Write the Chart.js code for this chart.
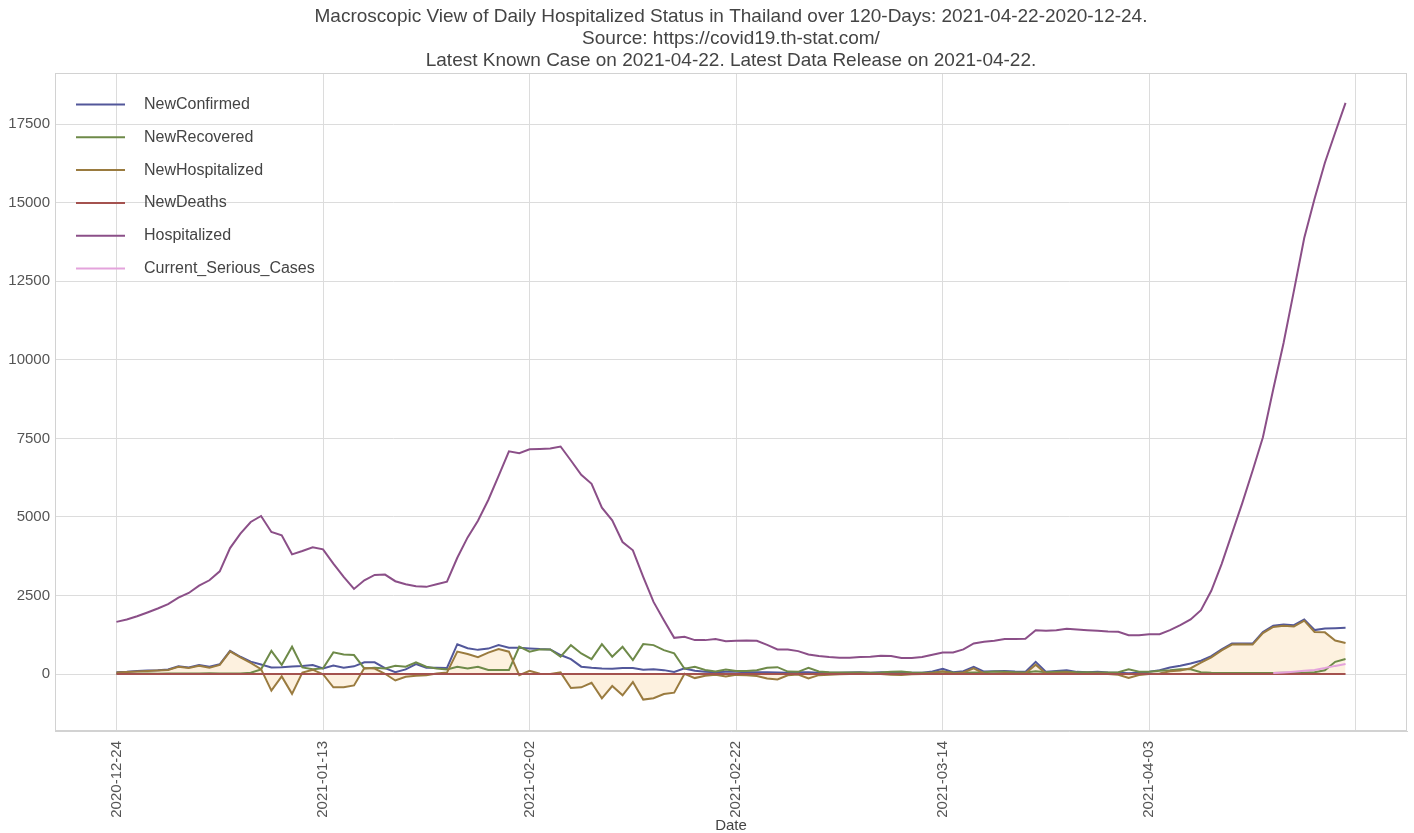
<!DOCTYPE html>
<html>
<head>
<meta charset="utf-8">
<title>Daily Hospitalized Status in Thailand</title>
<script src="https://cdn.jsdelivr.net/npm/chart.js@4.4.0/dist/chart.umd.min.js"></script>
<style>
  html, body { margin: 0; padding: 0; background: #fff; }
  #wrap { width: 1414px; height: 833px; }
</style>
</head>
<body>
<div id="wrap"><canvas id="hospChart" width="1414" height="833"></canvas></div>
<script>
// x axis: day index from 2020-12-24 (day 0) to 2021-04-22 (day 119)
const tickDays = [0, 20, 40, 60, 80, 100, 120];
const tickLabels = ['2020-12-24', '2021-01-13', '2021-02-02', '2021-02-22', '2021-03-14', '2021-04-03', ''];
const yTicks = [0, 2500, 5000, 7500, 10000, 12500, 15000, 17500];

const newConfirmed = [
    60, 70, 95, 115, 125, 145, 250, 210, 285, 230,
    310, 740, 550, 395, 305, 212, 215, 240, 255, 290,
    175, 270, 205, 245, 375, 375, 190, 60, 150, 320,
    200, 200, 195, 950, 820, 770, 810, 920, 840, 835,
    815, 795, 785, 605, 475, 235, 200, 180, 170, 190,
    190, 140, 150, 125, 65, 180, 105, 75, 60, 70,
    70, 55, 55, 60, 50, 40, 55, 60, 45, 40,
    45, 50, 60, 45, 55, 50, 50, 45, 40, 80,
    170, 60, 90, 230, 80, 90, 100, 80, 70, 390,
    70, 100, 125, 70, 60, 70, 50, 40, 25, 45,
    75, 125, 210, 265, 335, 425, 570, 785, 970, 975,
    970, 1340, 1535, 1580, 1555, 1740, 1400, 1450, 1460, 1470
];

const newRecovered = [
    10, 5, 10, 15, 10, 15, 20, 15, 20, 25,
    20, 15, 20, 40, 150, 740, 290, 870, 210, 150,
    180, 690, 625, 605, 180, 200, 180, 265, 235, 370,
    235, 180, 148, 233, 180, 233, 127, 127, 127, 870,
    710, 785, 785, 550, 920, 657, 477, 953, 551, 868,
    445, 953, 921, 762, 657, 170, 233, 127, 80, 148,
    95, 95, 120, 200, 220, 80, 70, 200, 80, 60,
    50, 50, 50, 45, 50, 70, 80, 50, 40, 50,
    80, 50, 40, 50, 60, 80, 70, 60, 50, 90,
    60, 70, 70, 60, 60, 50, 50, 60, 150, 75,
    70, 105, 120, 150, 150, 60, 40, 30, 30, 30,
    30, 35, 35, 40, 40, 40, 60, 120, 390, 480
];

const newHospitalized = [
    50, 65, 85, 100, 115, 130, 230, 195, 265, 204,
    290, 725, 530, 355, 155, -528, -75, -630, 45, 139,
    -5, -420, -420, -361, 195, 175, 10, -205, -85, -50,
    -35, 20, 47, 717, 640, 536, 683, 793, 713, -35,
    105, 10, 0, 55, -445, -422, -278, -773, -381, -678,
    -255, -813, -771, -637, -592, 10, -128, -52, -20, -78,
    -26, -40, -65, -140, -170, -40, -15, -140, -35, -21,
    -5, 0, 10, 0, 5, -20, -30, -5, 0, 30,
    90, 10, 50, 180, 20, 10, 30, 20, 20, 300,
    10, 30, 55, 9, 0, 20, 0, -20, -125, -30,
    5, 20, 90, 115, 185, 364, 530, 755, 940, 945,
    939, 1305, 1500, 1538, 1514, 1700, 1338, 1327, 1068, 987
];

const newDeaths = [
    0, 0, 0, 0, 0, 0, 0, 0, 0, 1,
    0, 0, 0, 0, 0, 0, 0, 0, 0, 1,
    0, 0, 0, 1, 0, 0, 0, 0, 0, 0,
    0, 0, 0, 0, 0, 1, 0, 0, 0, 0,
    0, 0, 0, 0, 0, 0, 1, 0, 0, 0,
    0, 0, 0, 0, 0, 0, 0, 0, 0, 0,
    1, 0, 0, 0, 0, 0, 0, 0, 0, 1,
    0, 0, 0, 0, 0, 0, 0, 0, 0, 0,
    0, 0, 0, 0, 0, 0, 0, 0, 0, 0,
    0, 0, 0, 1, 0, 0, 0, 0, 0, 0,
    0, 0, 0, 0, 0, 1, 0, 0, 0, 0,
    1, 0, 0, 2, 1, 0, 2, 3, 2, 3
];

const hospitalized = [
    1660, 1735, 1840, 1960, 2085, 2225, 2435, 2580, 2815, 2985,
    3270, 4010, 4470, 4840, 5030, 4520, 4415, 3810, 3915, 4035,
    3970, 3515, 3090, 2710, 2985, 3155, 3165, 2955, 2860, 2795,
    2775, 2858, 2940, 3700, 4350, 4880, 5540, 6310, 7090, 7030,
    7155, 7166, 7178, 7241, 6796, 6342, 6056, 5294, 4891, 4202,
    3938, 3091, 2296, 1715, 1153, 1185, 1080, 1080, 1112, 1048,
    1059, 1070, 1060, 930, 784, 784, 730, 625, 572, 540,
    519, 519, 540, 551, 582, 572, 508, 508, 540, 614,
    688, 688, 784, 974, 1027, 1059, 1112, 1112, 1122, 1397,
    1376, 1397, 1440, 1418, 1397, 1376, 1355, 1344, 1239, 1239,
    1270, 1270, 1397, 1556, 1737, 2033, 2650, 3500, 4468, 5441,
    6468, 7537, 9062, 10534, 12196, 13879, 15128, 16271, 17235, 18176
];

// serious cases are only reported from day 112 (2021-04-15) on
const seriousStartDay = 112;
const seriousCases = [30, 50, 75, 105, 130, 190, 260, 320];

const FONT = '"Liberation Sans", Arial, sans-serif';
const fillColor = '#fdf1df';

function toPoints(values, start) {
    return values.map((v, i) => ({ x: (start || 0) + i, y: v }));
}

// matplotlib-like frame around the plot area
const framePlugin = {
    id: 'frame',
    beforeDatasetsDraw(chart) {
        const { ctx, chartArea: a } = chart;
        ctx.save();
        ctx.strokeStyle = '#d2d2d2';
        ctx.lineWidth = 1;
        ctx.strokeRect(a.left + 0.5, a.top + 0.5, a.right - a.left - 1, a.bottom - a.top - 1);
        ctx.restore();
    }
};

// legend drawn inside the upper-left corner of the plot
const insideLegend = {
    id: 'insideLegend',
    afterDraw(chart) {
        const { ctx, chartArea: a } = chart;
        ctx.save();
        ctx.font = '16px ' + FONT;
        ctx.textBaseline = 'middle';
        chart.data.datasets.forEach((ds, i) => {
            const y = a.top + 31.5 + i * 32.8;
            ctx.strokeStyle = ds.borderColor;
            ctx.lineWidth = 2;
            ctx.beginPath();
            ctx.moveTo(a.left + 21, y);
            ctx.lineTo(a.left + 70, y);
            ctx.stroke();
            ctx.fillStyle = '#444';
            ctx.fillText(ds.label, a.left + 89, y);
        });
        ctx.restore();
    }
};

const ctx = document.getElementById('hospChart').getContext('2d');
const chart = new Chart(ctx, {
    type: 'line',
    data: {
        datasets: [
            { label: 'NewConfirmed', data: toPoints(newConfirmed), borderColor: '#52579a', order: 6 },
            { label: 'NewRecovered', data: toPoints(newRecovered), borderColor: '#6e8a49', order: 5 },
            {
                label: 'NewHospitalized', data: toPoints(newHospitalized), borderColor: '#9a7b3f', order: 4,
                backgroundColor: fillColor,
                fill: { target: 'origin', above: fillColor, below: fillColor }
            },
            { label: 'NewDeaths', data: toPoints(newDeaths), borderColor: '#a4524f', order: 3 },
            { label: 'Hospitalized', data: toPoints(hospitalized), borderColor: '#8b4f88', order: 2 },
            { label: 'Current_Serious_Cases', data: toPoints(seriousCases, seriousStartDay), borderColor: '#e4a3dc', order: 1 }
        ]
    },
    options: {
        responsive: false,
        animation: false,
        devicePixelRatio: 1,
        layout: { padding: { left: 0, right: 7, top: 0, bottom: 0 } },
        elements: {
            point: { radius: 0, hoverRadius: 0 },
            line: { borderWidth: 2, tension: 0, fill: false }
        },
        scales: {
            x: {
                type: 'linear',
                min: -5.95,
                max: 124.95,
                afterBuildTicks: scale => { scale.ticks = tickDays.map(v => ({ value: v })); },
                afterFit: scale => { scale.height = 102; },
                ticks: {
                    autoSkip: false,
                    minRotation: 90,
                    maxRotation: 90,
                    padding: 10,
                    color: '#555',
                    font: { family: FONT, size: 15 },
                    callback: v => {
                        const k = tickDays.indexOf(v);
                        return k >= 0 ? tickLabels[k] : '';
                    }
                },
                grid: { color: '#dcdcdc', drawTicks: false },
                border: { color: '#d2d2d2' },
                title: {
                    display: true,
                    text: 'Date',
                    color: '#444',
                    padding: { top: 0, bottom: 0 },
                    font: { family: FONT, size: 15, lineHeight: 1 }
                }
            },
            y: {
                min: -1812,
                max: 19128,
                afterBuildTicks: scale => { scale.ticks = yTicks.map(v => ({ value: v })); },
                afterFit: scale => { scale.width = 55; },
                ticks: {
                    padding: 5,
                    color: '#555',
                    font: { family: FONT, size: 15 },
                    callback: v => String(v)
                },
                grid: { color: '#dcdcdc', drawTicks: false },
                border: { color: '#d2d2d2' }
            }
        },
        plugins: {
            legend: { display: false },
            tooltip: { enabled: false },
            filler: { drawTime: 'beforeDatasetsDraw' },
            title: {
                display: true,
                fullSize: false,
                text: [
                    'Macroscopic View of Daily Hospitalized Status in Thailand over 120-Days: 2021-04-22-2020-12-24.',
                    'Source: https://covid19.th-stat.com/',
                    'Latest Known Case on 2021-04-22. Latest Data Release on 2021-04-22.'
                ],
                color: '#444',
                font: { family: FONT, size: 19, weight: 'normal', lineHeight: 22 / 19 },
                padding: { top: 6, bottom: 1 }
            }
        }
    },
    plugins: [framePlugin, insideLegend]
});
</script>
</body>
</html>
